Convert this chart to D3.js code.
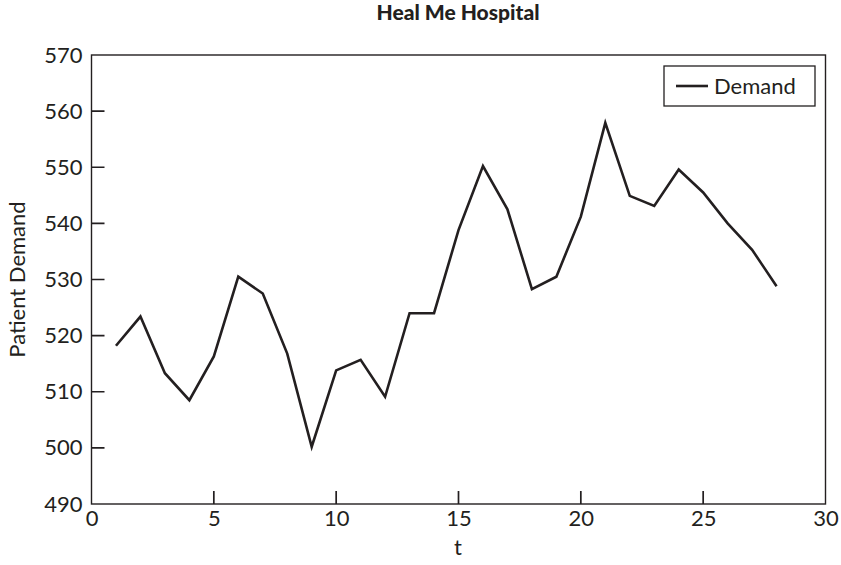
<!DOCTYPE html>
<html>
<head>
<meta charset="utf-8">
<script src="https://cdn.jsdelivr.net/npm/d3@7"></script>
<style>
  body { margin: 0; background: #fff; }
  svg text { font-family: Lato, "Noto Sans", sans-serif; fill: #231f20; }
</style>
</head>
<body>
<div id="chart"></div>
<script>
// data
var periods = d3.range(1, 29);
var demand = [518.2, 523.4, 513.3, 508.5, 516.3, 530.5, 527.5, 516.8, 500.2, 513.8,
              515.7, 509.1, 524.0, 524.0, 538.8, 550.2, 542.5, 528.3, 530.5, 541.2,
              557.9, 544.9, 543.1, 549.6, 545.5, 540.0, 535.3, 528.8];
var xTicks = [0, 5, 10, 15, 20, 25, 30];
var yTicks = [490, 500, 510, 520, 530, 540, 550, 560, 570];
var seriesName = 'Demand';

var W = 841, H = 565;
var margin = {top: 55, right: 15, bottom: 61, left: 91.5};
var plotW = 825.5 - margin.left,
    plotH = 504 - margin.top;
var ink = '#231f20';

var svg = d3.select('#chart').append('svg')
    .attr('width', W)
    .attr('height', H);

var g = svg.append('g')
    .attr('transform', 'translate(' + margin.left + ',' + margin.top + ')');

var x = d3.scaleLinear().domain([0, 30]).range([0, plotW]);
var y = d3.scaleLinear().domain([490, 570]).range([plotH, 0]);

// labels from the axes, tick marks drawn inward below
var xAxis = d3.axisBottom(x).tickValues(xTicks).tickSize(0).tickPadding(6);
var yAxis = d3.axisLeft(y).tickValues(yTicks).tickSize(0).tickPadding(9);

var gx = g.append('g')
    .attr('transform', 'translate(0,' + plotH + ')')
    .call(xAxis);
var gy = g.append('g').call(yAxis);

[gx, gy].forEach(function(a) {
    a.selectAll('.domain').remove();
    a.selectAll('.tick text').style('font-size', '22px').attr('fill', ink);
});

// inward tick marks as one path
var tp = d3.path();
xTicks.slice(1, -1).forEach(function(d) {
    tp.moveTo(x(d), plotH);
    tp.lineTo(x(d), plotH - 13);
});
yTicks.slice(1, -1).forEach(function(d) {
    tp.moveTo(0, y(d));
    tp.lineTo(13, y(d));
});
g.append('path')
    .attr('d', tp.toString())
    .attr('fill', 'none')
    .attr('stroke', ink)
    .attr('stroke-width', 1.7);

// frame
g.append('rect')
    .attr('width', plotW)
    .attr('height', plotH)
    .attr('fill', 'none')
    .attr('stroke', ink)
    .attr('stroke-width', 1.4);

var line = d3.line()
    .x(function(d, i) { return x(periods[i]); })
    .y(function(d) { return y(d); });

g.append('path')
    .datum(demand)
    .attr('d', line)
    .attr('fill', 'none')
    .attr('stroke', ink)
    .attr('stroke-width', 2.6)
    .attr('stroke-linejoin', 'miter');

// legend
var lg = svg.append('g').attr('transform', 'translate(664,66)');
lg.append('rect')
    .attr('width', 151)
    .attr('height', 40)
    .attr('fill', '#fff')
    .attr('stroke', ink)
    .attr('stroke-width', 1.3);
lg.append('line')
    .attr('x1', 12).attr('x2', 44)
    .attr('y1', 20).attr('y2', 20)
    .attr('stroke', ink)
    .attr('stroke-width', 2.6);
lg.append('text')
    .attr('x', 50)
    .attr('y', 28)
    .style('font-size', '22px')
    .text(seriesName);

// title and axis labels
svg.append('text')
    .attr('x', 458)
    .attr('y', 20)
    .attr('text-anchor', 'middle')
    .style('font-size', '21px')
    .style('font-weight', 900)
    .text('Heal Me Hospital');

svg.append('text')
    .attr('x', 458)
    .attr('y', 555)
    .attr('text-anchor', 'middle')
    .style('font-size', '22px')
    .text('t');

svg.append('text')
    .attr('transform', 'translate(25,' + (margin.top + plotH / 2) + ') rotate(-90)')
    .attr('text-anchor', 'middle')
    .style('font-size', '22px')
    .text('Patient Demand');
</script>
</body>
</html>
